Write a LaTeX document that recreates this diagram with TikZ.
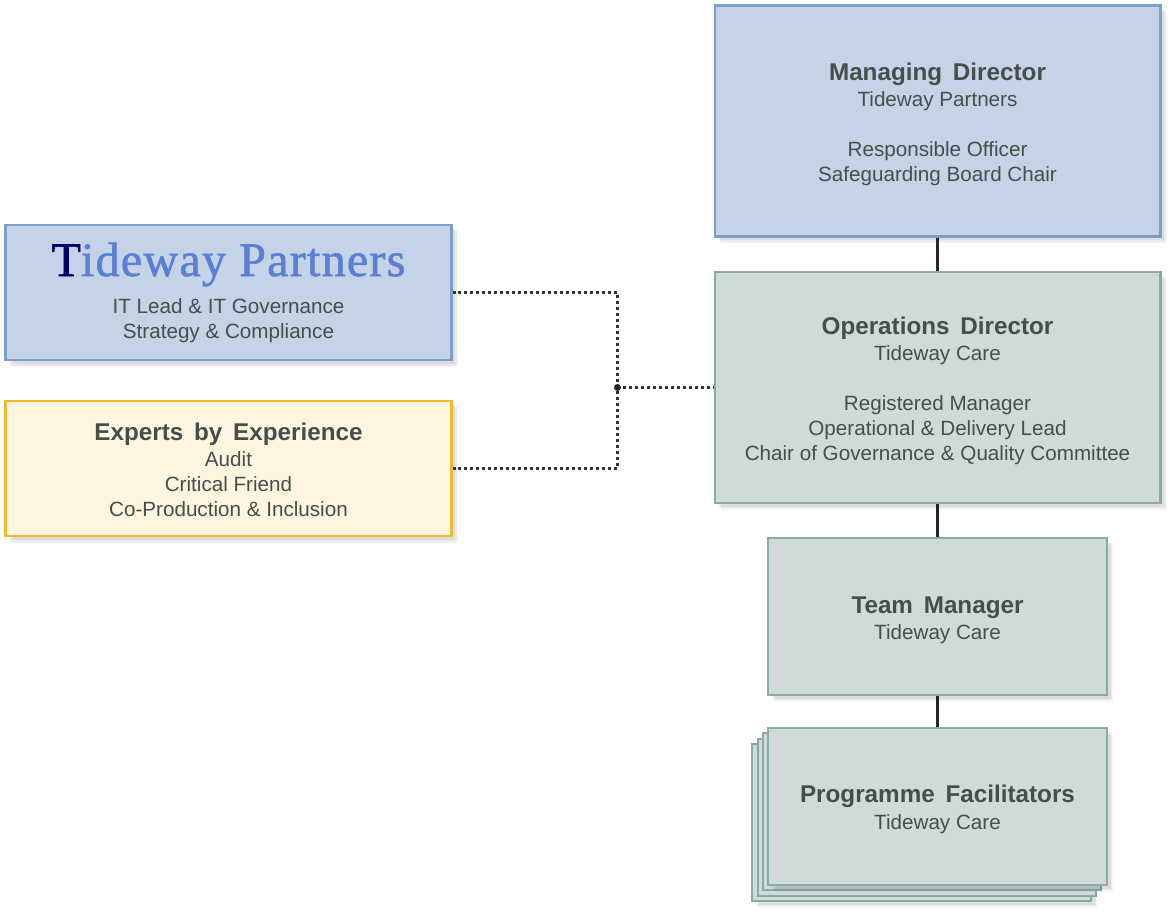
\documentclass[tikz,border=0pt]{standalone}
\usepackage{fontspec}
\setmainfont{Liberation Sans}[BoldFeatures={WordSpace=1.6}]
\newfontfamily\logofont{Liberation Serif}[LetterSpace=2.5,FakeBold=1.2]
\usetikzlibrary{shadows,calc}
\definecolor{bluefill}{HTML}{C5D3E6}
\definecolor{blueline}{HTML}{7B9FC9}
\definecolor{greenfill}{HTML}{CFDBD9}
\definecolor{greenline}{HTML}{8AABA5}
\definecolor{yellowfill}{HTML}{FEF5E0}
\definecolor{yellowline}{HTML}{F2B92B}
\definecolor{textgrey}{HTML}{444F4C}
\definecolor{logoblue}{HTML}{5B7FD5}
\definecolor{logonavy}{HTML}{000066}
\newcommand{\roletitle}[1]{{\fontsize{13.8pt}{15.3pt}\selectfont\bfseries #1}}
\newcommand{\boxtext}[1]{\raisebox{-5.7pt}[0pt][0pt]{\begin{tabular}{@{}c@{}}#1\end{tabular}}}
\tikzset{
  softshadow/.style={
    general shadow={shadow xshift=2.2pt,shadow yshift=-2.2pt,fill=black,opacity=0.05},
    general shadow={shadow xshift=3pt,shadow yshift=-3pt,fill=black,opacity=0.05},
    general shadow={shadow xshift=3.8pt,shadow yshift=-3.8pt,fill=black,opacity=0.04}},
  plainbox/.style={rectangle,draw,line width=1.2pt,inner sep=0pt,align=center,
    text=textgrey,font=\fontsize{11.75pt}{14.2pt}\selectfont},
  rolebox/.style={plainbox,softshadow},
  bluebox/.style={rolebox,fill=bluefill,draw=blueline,minimum width=253.8pt,minimum height=77.3pt},
  yellowbox/.style={rolebox,fill=yellowfill,draw=yellowline,minimum width=253.8pt,minimum height=77.3pt},
  greenbox/.style={rolebox,fill=greenfill,draw=greenline,minimum width=253.8pt,minimum height=131.5pt},
  smallbox/.style={rolebox,fill=greenfill,draw=greenline,minimum width=192.6pt,minimum height=89.3pt},
  flatcard/.style={plainbox,fill=greenfill,draw=greenline,minimum width=192.6pt,minimum height=89.3pt},
  solidlink/.style={line width=1.4pt,draw=black!85},
  dotlink/.style={line width=1.7pt,draw=black!80,dash pattern=on 1.7008pt off 1.7008pt},
}
\begin{document}
\begin{tikzpicture}[x=0.02cm,y=-0.02cm]
      \useasboundingbox (0,0) rectangle (1175,915);
      
      %right column
      \node (director) at (937.5,121) [bluebox,minimum height=131.5pt]{\boxtext{\roletitle{Managing Director}\\[0.6pt]Tideway Partners\\[14.2pt]Responsible Officer\\Safeguarding Board Chair}};
      \node (operations) at (937.5,387.5) [greenbox]{\boxtext{\roletitle{Operations Director}\\[0.6pt]Tideway Care\\[14.2pt]Registered Manager\\Operational \& Delivery Lead\\Chair of Governance \& Quality Committee}};
      \node (manager) at (937.5,616.5) [smallbox]{\boxtext{\roletitle{Team Manager}\\[0.6pt]Tideway Care}};
      
      %stacked cards behind the last box
      \node (card3) at (937.5-5.3*3,806.5+5.3*3) [smallbox]{};
      \foreach \i in {2,1}  {
      	\node (card\i) at (937.5-5.3*\i,806.5+5.3*\i) [flatcard]{};
      }
      \node (facilitators) at (937.5,806.5) [smallbox]{\boxtext{\roletitle{Programme Facilitators}\\[1.2pt]Tideway Care}};
      
      %left column
      \node (partners) at (228.5,292.5) [bluebox]{{\logofont\fontsize{27.4pt}{28pt}\selectfont\textcolor{logonavy}{T}\textcolor{logoblue}{ideway Partners}}\\[5.7pt]IT Lead \& IT Governance\\Strategy \& Compliance};
      \node (experts) at (228.5,468.5) [yellowbox]{\boxtext{\roletitle{Experts by Experience}\\[0.6pt]Audit\\Critical Friend\\Co-Production \& Inclusion}};
      
      \coordinate (junction) at (617.5,387.5);
      
      \draw[solidlink] (director) -- (operations);
      \draw[solidlink] (operations) -- (manager);
      \draw[solidlink] (manager) -- (facilitators);
      
      \draw[dotlink] (partners.east) -| (junction);
      \draw[dotlink] (experts.east) -| (junction);
      \draw[dotlink] (junction) -- (operations.west);
      \fill[black!85] (junction) circle (2pt);
      
\end{tikzpicture}
\end{document}
